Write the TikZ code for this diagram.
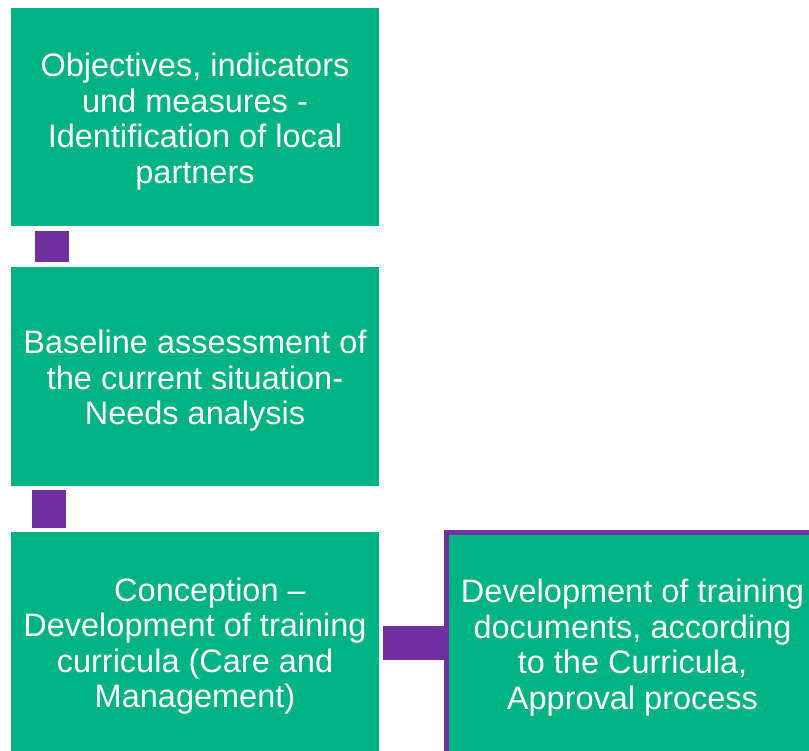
\documentclass[tikz,border=0pt]{standalone}
\usepackage{fontspec}
\setmainfont{Liberation Sans}
\definecolor{boxgreen}{RGB}{0,179,130}
\definecolor{linkpurple}{RGB}{112,48,160}
\begin{document}
\begin{tikzpicture}[x=1pt,y=-1pt,
  stagebox/.style={fill=boxgreen, draw=none, inner sep=0pt, minimum width=368pt, minimum height=219pt},
  finalbox/.style={stagebox, draw=linkpurple, line width=5pt, minimum width=372pt, minimum height=221pt},
  stagetext/.style={text=white, align=center, inner sep=0pt, yshift=-4.5pt, font=\fontsize{32.5}{35.5}\selectfont},
  linkbox/.style={fill=linkpurple, draw=none, inner sep=0pt}]
\useasboundingbox (0,0) rectangle (809,751);
\node[stagebox, minimum height=218pt] (b1) at (195,117) {};
\node[stagebox] (b2) at (195,376.5) {};
\node[stagebox] (b3) at (195,641.5) {};
\node[finalbox] (b4) at (632.5,643) {};
\node[stagetext] (t1) at (b1.center) {Objectives, indicators\\und measures -\\Identification of local\\partners};
\node[stagetext] (t2) at (b2.center) {Baseline assessment of\\the current situation-\\Needs analysis};
\node[stagetext] (t3) at (b3.center) {\hspace*{30pt}Conception –\\Development of training\\curricula (Care and\\Management)};
\node[stagetext] (t4) at (b4.center) {Development of training\\documents, according\\to the Curricula,\\Approval process};
\node[linkbox, minimum width=34pt, minimum height=31pt] (l1) at (52,246.5) {};
\node[linkbox, minimum width=34pt, minimum height=38pt] (l2) at (49,509) {};
\node[linkbox, minimum width=61pt, minimum height=34pt] (l3) at (413.5,643) {};
\end{tikzpicture}
\end{document}
